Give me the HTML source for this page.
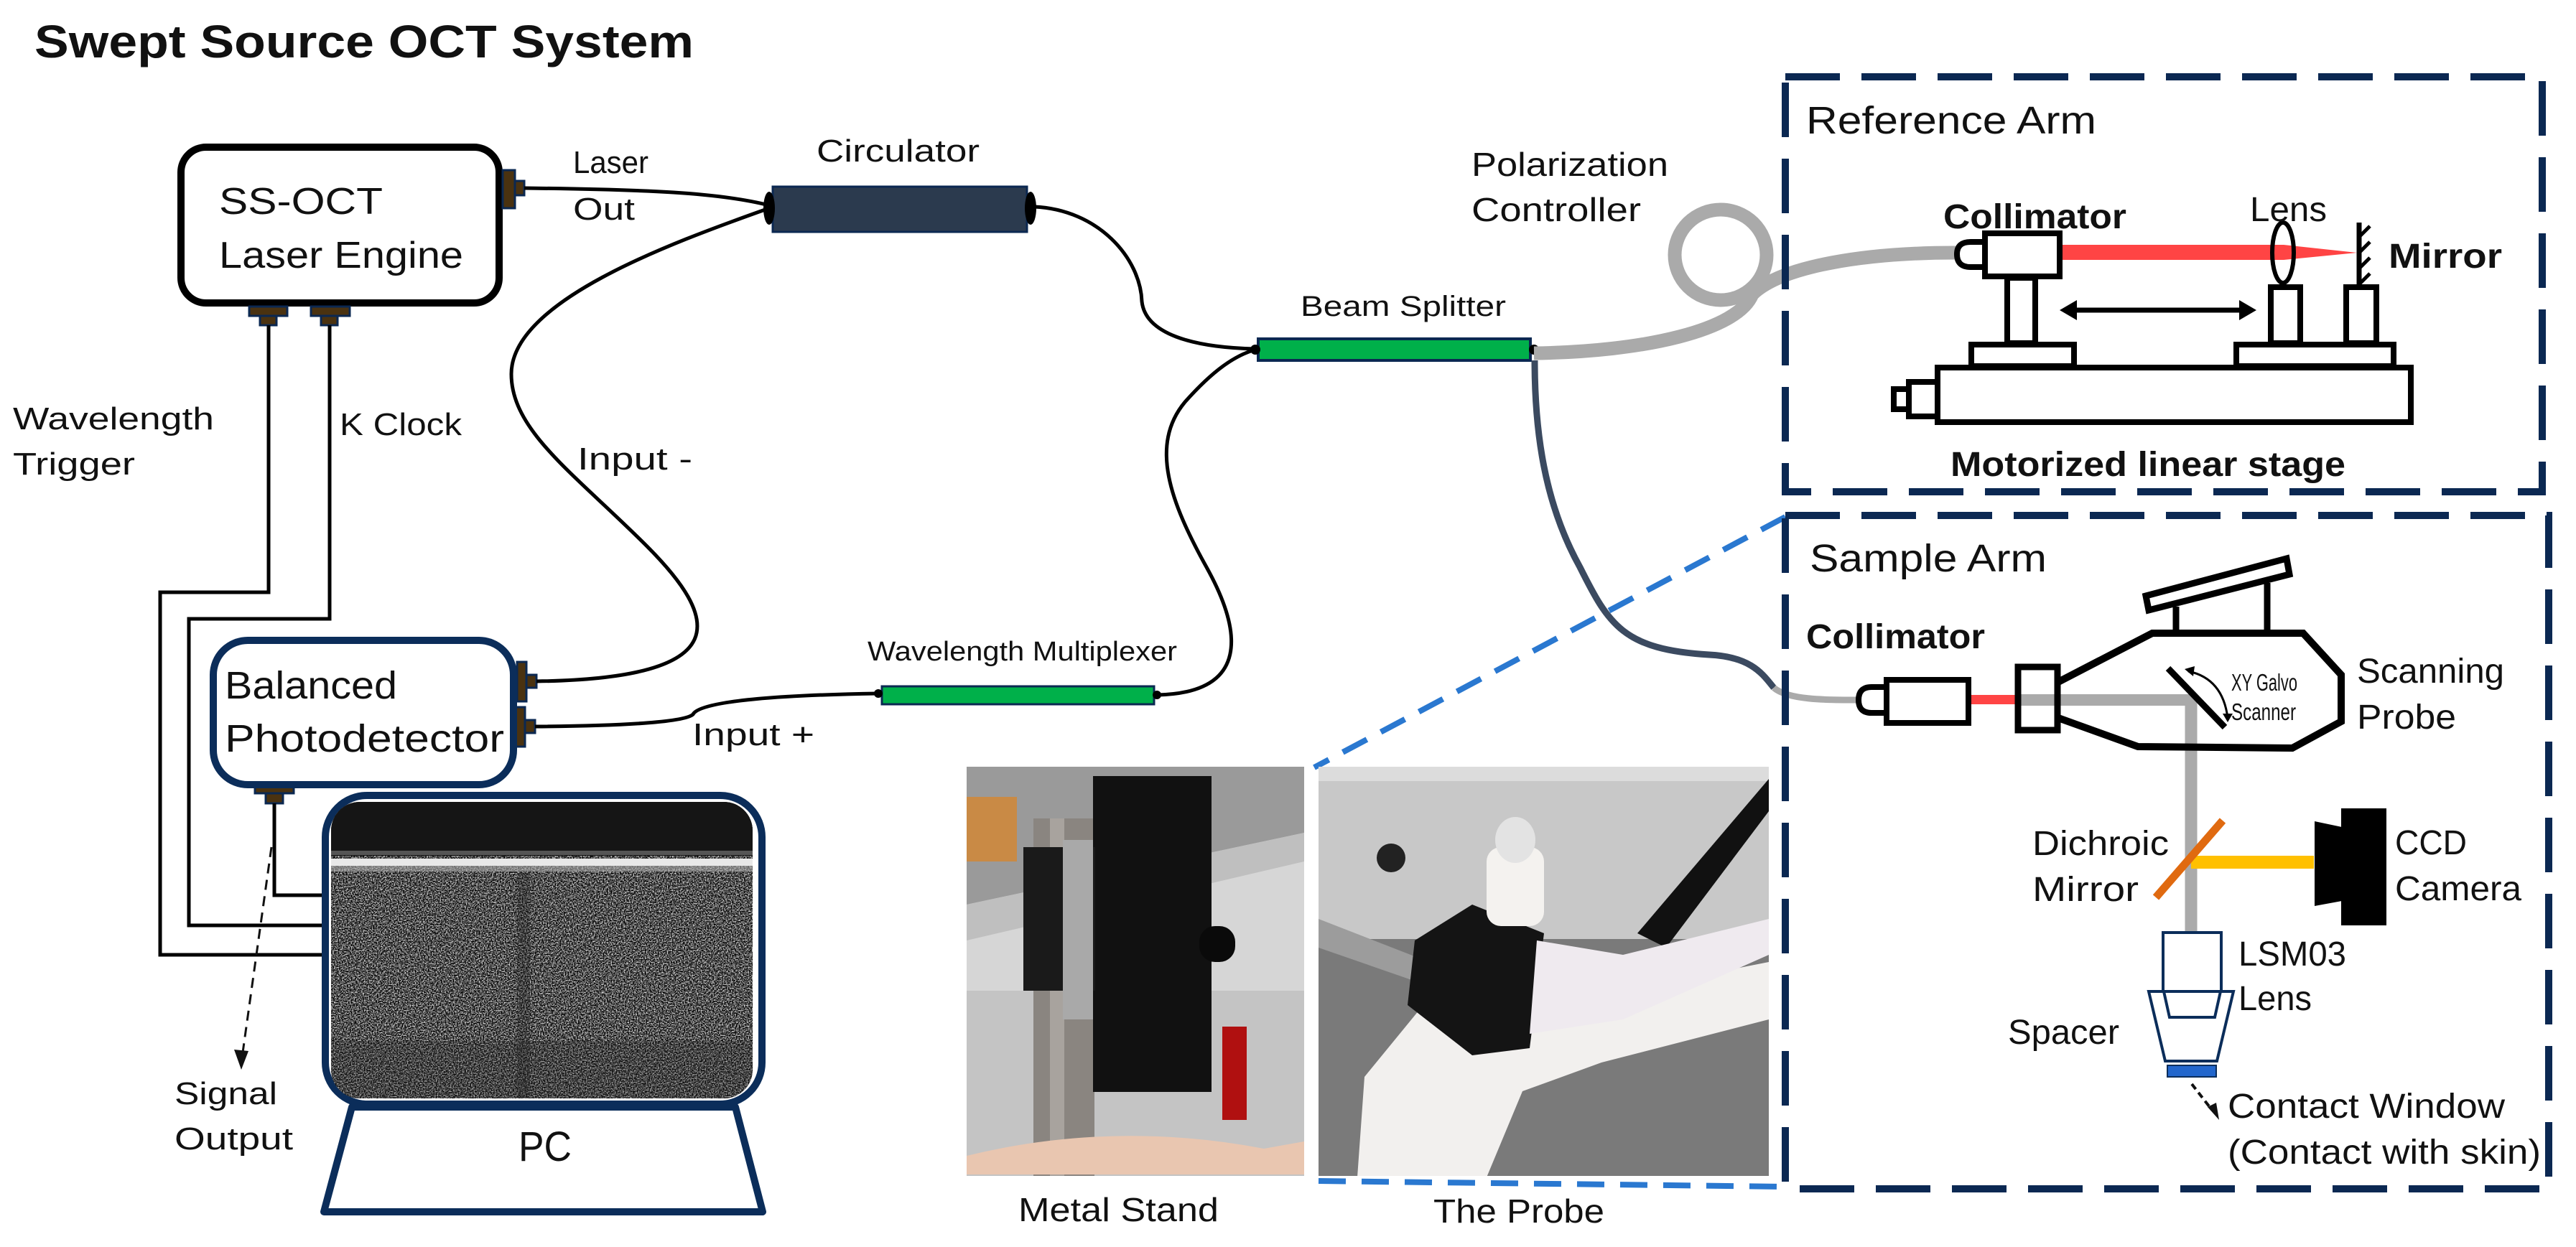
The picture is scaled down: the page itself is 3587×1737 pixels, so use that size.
<!DOCTYPE html>
<html><head><meta charset="utf-8"><style>
html,body{margin:0;padding:0;background:#fff}
svg{display:block}
text{font-family:"Liberation Sans",Arial,sans-serif;fill:#111}
</style></head><body>
<svg width="3587" height="1737" viewBox="0 0 3587 1737" xmlns="http://www.w3.org/2000/svg">
<defs>
<filter id="nz" x="0" y="0" width="100%" height="100%" color-interpolation-filters="sRGB">
<feTurbulence type="fractalNoise" baseFrequency="0.55" numOctaves="2" seed="5"/>
<feColorMatrix type="matrix" values="2 0 0 0 -0.68  2 0 0 0 -0.68  2 0 0 0 -0.68  0 0 0 0 1"/>
</filter>
<clipPath id="scr"><rect x="461" y="1117" width="587" height="413" rx="40"/></clipPath>
<clipPath id="ph1"><rect x="1346" y="1068" width="470" height="570"/></clipPath>
<clipPath id="ph2"><rect x="1836" y="1068" width="627" height="570"/></clipPath>
</defs>

<!-- Title -->
<text x="48" y="80" font-size="64" font-weight="bold" textLength="918" lengthAdjust="spacingAndGlyphs">Swept Source OCT System</text>

<!-- SS-OCT box -->
<rect x="252" y="205" width="443" height="217" rx="35" fill="#fff" stroke="#000" stroke-width="10"/>
<text x="305" y="298" font-size="52" textLength="228" lengthAdjust="spacingAndGlyphs">SS-OCT</text>
<text x="305" y="373" font-size="52" textLength="340" lengthAdjust="spacingAndGlyphs">Laser Engine</text>
<g fill="#4a3210" stroke="#0b2852" stroke-width="3">
<rect x="700" y="237" width="17" height="53"/><rect x="717" y="252" width="13" height="20"/>
<rect x="347" y="427" width="53" height="13"/><rect x="362" y="440" width="23" height="13"/>
<rect x="433" y="427" width="54" height="13"/><rect x="447" y="440" width="23" height="13"/>
<rect x="720" y="922" width="13" height="55"/><rect x="733" y="940" width="14" height="18"/>
<rect x="718" y="985" width="13" height="55"/><rect x="731" y="1003" width="14" height="18"/>
<rect x="355" y="1092" width="54" height="13"/><rect x="370" y="1105" width="24" height="14"/>
</g>

<g fill="none" stroke="#000" stroke-width="5">
<polyline points="374,453 374,825 223,825 223,1330 448,1330"/>
<polyline points="459,453 459,862 263,862 263,1289 448,1289"/>
<polyline points="382,1119 382,1247 448,1247"/>
</g>
<text x="18" y="598" font-size="44" textLength="280" lengthAdjust="spacingAndGlyphs">Wavelength</text>
<text x="18" y="661" font-size="44" textLength="170" lengthAdjust="spacingAndGlyphs">Trigger</text>
<text x="473" y="606" font-size="44" textLength="170" lengthAdjust="spacingAndGlyphs">K Clock</text>

<rect x="297" y="892" width="418" height="201" rx="48" fill="#fff" stroke="#0b2d5a" stroke-width="10"/>
<text x="313" y="973" font-size="54" textLength="240" lengthAdjust="spacingAndGlyphs">Balanced</text>
<text x="313" y="1047" font-size="54" textLength="389" lengthAdjust="spacingAndGlyphs">Photodetector</text>

<line x1="378" y1="1180" x2="338" y2="1466" stroke="#111" stroke-width="3" stroke-dasharray="14 9"/>
<path d="M326,1462 L336,1490 L346,1464 z" fill="#111"/>
<text x="243" y="1538" font-size="44" textLength="143" lengthAdjust="spacingAndGlyphs">Signal</text>
<text x="243" y="1601" font-size="44" textLength="165" lengthAdjust="spacingAndGlyphs">Output</text>

<rect x="453" y="1108" width="608" height="430" rx="58" fill="#fff" stroke="#0b2d5a" stroke-width="10"/>
<g clip-path="url(#scr)">
<rect x="461" y="1117" width="587" height="413" fill="#444"/>
<rect x="461" y="1117" width="587" height="413" filter="url(#nz)"/>
<rect x="461" y="1117" width="587" height="75" fill="#151515"/>
<rect x="461" y="1185" width="587" height="6" fill="#555"/>
<rect x="461" y="1196" width="587" height="10" fill="#e8e8e8"/>
<rect x="461" y="1206" width="587" height="8" fill="#aaa" opacity="0.6"/>
<rect x="720" y="1216" width="18" height="314" fill="#222" opacity="0.3"/>
<rect x="461" y="1450" width="587" height="80" fill="#222" opacity="0.25"/>
</g>
<path d="M490,1542 L1024,1542 L1062,1688 L451,1688 Z" fill="#fff" stroke="#0b2d5a" stroke-width="10" stroke-linejoin="round"/>
<text x="722" y="1617" font-size="58" textLength="74" lengthAdjust="spacingAndGlyphs">PC</text>

<g fill="none" stroke="#000" stroke-width="5">
<path d="M730,262 C 900,264 1000,268 1071,286"/>
<path d="M1071,290 C 930,340 712,420 712,521 C 712,600 800,660 900,760 C 1000,860 1030,945 747,949"/>
<path d="M745,1012 C 880,1011 955,1005 965,995 C 975,975 1100,968 1222,966"/>
<path d="M1612,968 C 1740,965 1730,880 1680,790 C 1630,700 1600,620 1650,560 C 1690,515 1720,495 1748,487"/>
<path d="M1440,288 C 1530,292 1588,360 1590,420 C 1595,465 1660,484 1748,486"/>
</g>
<text x="798" y="241" font-size="44" textLength="105" lengthAdjust="spacingAndGlyphs">Laser</text>
<text x="798" y="306" font-size="44" textLength="86" lengthAdjust="spacingAndGlyphs">Out</text>
<text x="804" y="654" font-size="44" textLength="160" lengthAdjust="spacingAndGlyphs">Input -</text>
<text x="964" y="1038" font-size="44" textLength="170" lengthAdjust="spacingAndGlyphs">Input +</text>

<rect x="1076" y="260" width="354" height="63" fill="#2b3a4e" stroke="#0b2852" stroke-width="3"/>
<ellipse cx="1071" cy="290" rx="8" ry="23" fill="#000"/>
<ellipse cx="1435" cy="290" rx="8" ry="23" fill="#000"/>
<text x="1137" y="225" font-size="44" textLength="227" lengthAdjust="spacingAndGlyphs">Circulator</text>

<rect x="1228" y="956" width="379" height="25" fill="#00b04a" stroke="#0b2852" stroke-width="3"/>
<circle cx="1223" cy="966" r="6" fill="#000"/><circle cx="1611" cy="968" r="6" fill="#000"/>
<text x="1208" y="920" font-size="38" textLength="431" lengthAdjust="spacingAndGlyphs">Wavelength Multiplexer</text>

<rect x="1752" y="472" width="379" height="30" fill="#00b04a" stroke="#0b2852" stroke-width="4"/>
<circle cx="1748" cy="487" r="7" fill="#000"/><circle cx="2136" cy="487" r="7" fill="#000"/>
<text x="1811" y="440" font-size="40" textLength="286" lengthAdjust="spacingAndGlyphs">Beam Splitter</text>

<g fill="none" stroke="#aaa" stroke-width="19">
<path d="M2136,492 C 2290,490 2420,460 2440,410"/>
<ellipse cx="2396" cy="355" rx="64" ry="63"/>
<path d="M2440,410 C 2480,370 2600,352 2723,352"/>
</g>
<text x="2049" y="245" font-size="46" textLength="274" lengthAdjust="spacingAndGlyphs">Polarization</text>
<text x="2049" y="308" font-size="46" textLength="236" lengthAdjust="spacingAndGlyphs">Controller</text>

<path d="M2137,502 C 2137,600 2150,700 2200,790 C 2240,870 2260,905 2380,912 C 2440,915 2455,940 2470,958" fill="none" stroke="#3b4a60" stroke-width="9"/>
<path d="M2470,958 C 2490,975 2540,975 2590,975" fill="none" stroke="#aaa" stroke-width="9"/>

<g stroke="#2a78d0" stroke-width="8" stroke-dasharray="38 22" fill="none">
<line x1="2486" y1="720" x2="1830" y2="1069"/>
<line x1="1836" y1="1645" x2="2486" y2="1653"/>
</g>

<rect x="2486" y="107" width="1054" height="578" fill="none" stroke="#0b2852" stroke-width="10" stroke-dasharray="76 30"/>
<text x="2515" y="186" font-size="54" textLength="404" lengthAdjust="spacingAndGlyphs">Reference Arm</text>
<path d="M2866,341 L3180,341 L3282,352 L3180,362 L2866,362 Z" fill="#ff4444"/>
<g fill="#fff" stroke="#000" stroke-width="8">
<path d="M2764,337 L2744,337 Q2725,337 2725,354 Q2725,372 2744,372 L2764,372 Z"/>
<rect x="2764" y="325" width="104" height="60"/>
<rect x="2795" y="387" width="39" height="91"/>
<rect x="2745" y="480" width="143" height="30"/>
<rect x="3162" y="400" width="41" height="78"/>
<rect x="3267" y="400" width="42" height="78"/>
<rect x="3114" y="480" width="219" height="30"/>
<rect x="2698" y="512" width="659" height="76"/>
<rect x="2658" y="532" width="40" height="48"/>
<rect x="2637" y="542" width="21" height="28"/>
</g>
<ellipse cx="3179" cy="352" rx="15" ry="42" fill="none" stroke="#000" stroke-width="6"/>
<line x1="3285" y1="310" x2="3285" y2="398" stroke="#000" stroke-width="7"/>
<g stroke="#000" stroke-width="5"><line x1="3285" y1="330" x2="3300" y2="315"/><line x1="3285" y1="352" x2="3300" y2="337"/><line x1="3285" y1="374" x2="3300" y2="359"/><line x1="3285" y1="396" x2="3300" y2="381"/></g>
<line x1="2880" y1="432" x2="3130" y2="432" stroke="#000" stroke-width="7"/>
<path d="M2868,432 L2892,418 L2892,446 Z" fill="#000"/><path d="M3142,432 L3118,418 L3118,446 Z" fill="#000"/>
<text x="2706" y="318" font-size="48" font-weight="bold" textLength="255" lengthAdjust="spacingAndGlyphs">Collimator</text>
<text x="3133" y="308" font-size="48" textLength="107" lengthAdjust="spacingAndGlyphs">Lens</text>
<text x="3326" y="373" font-size="48" font-weight="bold" textLength="158" lengthAdjust="spacingAndGlyphs">Mirror</text>
<text x="2716" y="663" font-size="48" font-weight="bold" textLength="550" lengthAdjust="spacingAndGlyphs">Motorized linear stage</text>

<rect x="2486" y="718" width="1063" height="938" fill="none" stroke="#0b2852" stroke-width="10" stroke-dasharray="76 30"/>
<text x="2520" y="796" font-size="54" textLength="330" lengthAdjust="spacingAndGlyphs">Sample Arm</text>
<text x="2515" y="903" font-size="48" font-weight="bold" textLength="249" lengthAdjust="spacingAndGlyphs">Collimator</text>
<rect x="2741" y="968" width="67" height="13" fill="#ff4444"/>
<line x1="2808" y1="975" x2="3051" y2="975" stroke="#aaa" stroke-width="16"/>
<line x1="3051" y1="968" x2="3051" y2="1298" stroke="#aaa" stroke-width="17"/>
<rect x="3051" y="1192" width="171" height="18" fill="#ffc000"/>
<line x1="3002" y1="1250" x2="3095" y2="1143" stroke="#e06a10" stroke-width="11"/>
<g fill="#fff" stroke="#000" stroke-width="8">
<path d="M2627,957 L2606,957 Q2588,957 2588,975 Q2588,993 2606,993 L2627,993 Z"/>
<rect x="2627" y="947" width="114" height="60"/>
</g>
<path d="M2866,950 L2997,882 L3207,882 L3260,940 L3260,1005 L3192,1042 L2977,1040 L2866,1000" fill="none" stroke="#000" stroke-width="10"/>
<rect x="2810" y="929" width="55" height="88" fill="none" stroke="#000" stroke-width="9"/>
<line x1="3030" y1="845" x2="3030" y2="882" stroke="#000" stroke-width="9"/>
<line x1="3157" y1="812" x2="3157" y2="882" stroke="#000" stroke-width="9"/>
<path d="M2988,830 L3184,778 L3188,800 L2992,850 Z" fill="#fff" stroke="#000" stroke-width="9"/>
<line x1="3019" y1="931" x2="3098" y2="1013" stroke="#000" stroke-width="9"/>
<path d="M3047,935 Q3095,945 3102,1000" fill="none" stroke="#000" stroke-width="3"/>
<path d="M3042,932 L3056,928 L3054,942 Z" fill="#000"/><path d="M3102,1006 L3095,994 L3109,994 Z" fill="#000"/>
<text x="3107" y="962" font-size="33" textLength="92" lengthAdjust="spacingAndGlyphs">XY Galvo</text>
<text x="3107" y="1003" font-size="33" textLength="90" lengthAdjust="spacingAndGlyphs">Scanner</text>
<text x="3282" y="951" font-size="48" textLength="205" lengthAdjust="spacingAndGlyphs">Scanning</text>
<text x="3282" y="1015" font-size="48" textLength="138" lengthAdjust="spacingAndGlyphs">Probe</text>
<rect x="3260" y="1126" width="63" height="163" fill="#000"/>
<path d="M3223,1144 L3261,1152 L3261,1255 L3223,1262 Z" fill="#000"/>
<text x="3335" y="1190" font-size="48" textLength="100" lengthAdjust="spacingAndGlyphs">CCD</text>
<text x="3335" y="1254" font-size="48" textLength="176" lengthAdjust="spacingAndGlyphs">Camera</text>
<text x="2830" y="1191" font-size="48" textLength="190" lengthAdjust="spacingAndGlyphs">Dichroic</text>
<text x="2830" y="1255" font-size="48" textLength="148" lengthAdjust="spacingAndGlyphs">Mirror</text>
<g fill="none" stroke="#0b2d5a" stroke-width="4">
<rect x="3012" y="1299" width="81" height="82"/>
<path d="M2992,1381 L3110,1381 L3087,1478 L3015,1478 Z"/>
<path d="M3013,1381 L3092,1381 L3084,1417 L3021,1417 Z"/>
</g>
<rect x="3018" y="1484" width="68" height="16" fill="#2266cc" stroke="#0b2d5a" stroke-width="2"/>
<text x="3117" y="1345" font-size="48" textLength="150" lengthAdjust="spacingAndGlyphs">LSM03</text>
<text x="3117" y="1407" font-size="48" textLength="102" lengthAdjust="spacingAndGlyphs">Lens</text>
<text x="2796" y="1454" font-size="48" textLength="155" lengthAdjust="spacingAndGlyphs">Spacer</text>
<line x1="3052" y1="1510" x2="3080" y2="1546" stroke="#111" stroke-width="4" stroke-dasharray="9 6"/>
<path d="M3074,1542 L3090,1560 L3086,1536 Z" fill="#111"/>
<text x="3102" y="1557" font-size="48" textLength="386" lengthAdjust="spacingAndGlyphs">Contact Window</text>
<text x="3102" y="1621" font-size="48" textLength="436" lengthAdjust="spacingAndGlyphs">(Contact with skin)</text>

<g clip-path="url(#ph1)">
<rect x="1346" y="1068" width="470" height="570" fill="#d6d6d6"/>
<path d="M1346,1068 L1816,1068 L1816,1160 L1346,1260 Z" fill="#9a9a9a"/>
<path d="M1346,1260 L1816,1160 L1816,1200 L1346,1310 Z" fill="#bfbfbf"/>
<rect x="1346" y="1110" width="70" height="90" fill="#c98a45"/>
<rect x="1346" y="1380" width="470" height="260" fill="#c4c4c4"/>
<rect x="1439" y="1140" width="85" height="500" fill="#8a8580"/>
<rect x="1462" y="1140" width="20" height="500" fill="#a8a39e"/>
<rect x="1522" y="1081" width="165" height="440" fill="#111"/>
<rect x="1425" y="1180" width="100" height="200" fill="#1a1a1a"/>
<rect x="1480" y="1170" width="42" height="250" fill="#a9a9a9"/>
<rect x="1670" y="1290" width="50" height="50" rx="22" fill="#0a0a0a"/>
<rect x="1702" y="1430" width="34" height="130" fill="#b01010"/>
<path d="M1346,1636 L1346,1610 Q1550,1560 1760,1600 L1816,1590 L1816,1636 Z" fill="#e9c6b0"/>
</g>
<g clip-path="url(#ph2)">
<rect x="1836" y="1068" width="627" height="570" fill="#7a7a7a"/>
<rect x="1836" y="1068" width="627" height="240" fill="#c8c8c8"/>
<rect x="1836" y="1068" width="627" height="20" fill="#dcdcdc"/>
<circle cx="1937" cy="1195" r="20" fill="#222"/>
<path d="M2463,1085 L2463,1130 L2320,1320 L2280,1300 Z" fill="#111"/>
<path d="M1836,1280 L1990,1340 L1980,1370 L1836,1320 Z" fill="#9c9c9c"/>
<path d="M1900,1500 L1990,1390 L2260,1380 L2463,1340 L2463,1420 L2230,1480 L2120,1520 L2070,1640 L1890,1640 Z" fill="#f2f0ee"/>
<path d="M1970,1310 L2050,1260 L2150,1300 L2130,1460 L2050,1470 L1960,1400 Z" fill="#141414"/>
<rect x="2070" y="1180" width="80" height="110" rx="20" fill="#f4f2ef"/>
<ellipse cx="2110" cy="1170" rx="28" ry="32" fill="#e3e3e3"/>
<path d="M2140,1310 L2260,1330 L2463,1280 L2463,1330 L2260,1420 L2130,1440 Z" fill="#efeaef"/>
</g>
<text x="1418" y="1701" font-size="46" textLength="279" lengthAdjust="spacingAndGlyphs">Metal Stand</text>
<text x="1996" y="1703" font-size="46" textLength="238" lengthAdjust="spacingAndGlyphs">The Probe</text>
</svg>
</body></html>
